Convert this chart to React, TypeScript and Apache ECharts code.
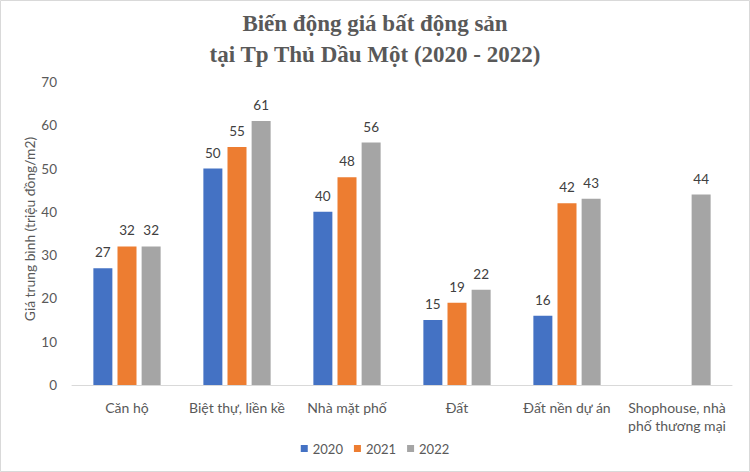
import React, { useEffect, useRef } from "react";
import * as echarts from "echarts";

const categories = [
  "Căn hộ",
  "Biệt thự, liền kề",
  "Nhà mặt phố",
  "Đất",
  "Đất nền dự án",
  "Shophouse, nhà\nphố thương mại",
];
const years = ["2020", "2021", "2022"];
const values2020 = [27, 50, 40, 15, 16, null];
const values2021 = [32, 55, 48, 19, 42, null];
const values2022 = [32, 61, 56, 22, 43, 44];
const colors = ["#4472C4", "#ED7D31", "#A5A5A5"];
const yAxisTitle = "Giá trung bình (triệu đồng/m2)";

export default function App() {
  const ref = useRef<HTMLDivElement>(null);
  useEffect(() => {
    if (!ref.current) return;
    const chart = echarts.init(ref.current, null, { renderer: "svg" });
    const font = "Lato, 'Liberation Sans', sans-serif";
    const seriesData = [values2020, values2021, values2022];
    chart.setOption({
      animation: false,
      backgroundColor: "#ffffff",
      title: {
        text: "Biến động giá bất động sản\ntại Tp Thủ Dầu Một (2020 - 2022)",
        left: "center",
        top: 3,
        textStyle: {
          fontFamily: "'Liberation Serif', serif",
          fontWeight: "bold",
          fontSize: 23,
          color: "#595959",
          lineHeight: 31,
        },
      },
      legend: {
        bottom: 12,
        left: "center",
        itemWidth: 7,
        itemHeight: 7,
        itemGap: 11,
        icon: "rect",
        textStyle: { fontFamily: font, fontSize: 13, color: "#595959" },
        data: years,
      },
      grid: { left: 72, right: 18, top: 82, bottom: 87 },
      xAxis: {
        type: "category",
        data: categories,
        axisLine: { lineStyle: { color: "#D9D9D9" } },
        axisTick: { show: false },
        axisLabel: {
          fontFamily: font,
          fontSize: 14,
          color: "#595959",
          margin: 13,
          lineHeight: 18,
          interval: 0,
        },
      },
      yAxis: {
        type: "value",
        min: 0,
        max: 70,
        interval: 10,
        axisLine: { show: false },
        axisTick: { show: false },
        splitLine: { show: false },
        axisLabel: { fontFamily: font, fontSize: 13.5, color: "#595959", margin: 15 },
      },
      series: years.map((y, i) => ({
        name: y,
        type: "bar",
        data: seriesData[i],
        barWidth: 19,
        barGap: "27%",
        itemStyle: { color: colors[i] },
        label: {
          show: true,
          position: "top",
          distance: 9,
          fontFamily: font,
          fontSize: 13.5,
          color: "#404040",
        },
      })),
      graphic: [
        {
          type: "rect",
          shape: { x: 0.5, y: 0.5, width: 749, height: 471 },
          style: { fill: "none", stroke: "#D9D9D9", lineWidth: 1 },
          silent: true,
        },
        {
          type: "text",
          x: 29,
          y: 229,
          rotation: Math.PI / 2,
          style: {
            text: yAxisTitle,
            fontFamily: font,
            fontSize: 13.8,
            fill: "#595959",
            align: "center",
            verticalAlign: "middle",
          },
          silent: true,
        },
      ],
    });
    return () => chart.dispose();
  }, []);
  return (
    <div
      ref={ref}
      style={{ position: "fixed", left: 0, top: 0, width: 750, height: 472 }}
    />
  );
}
